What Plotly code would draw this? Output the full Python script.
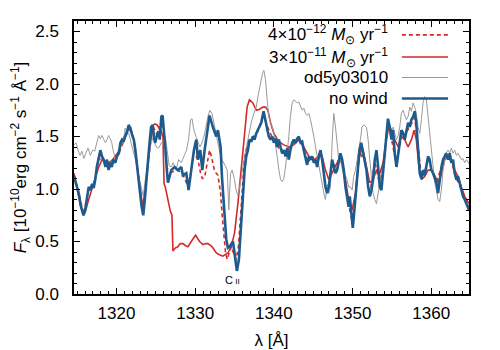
import plotly.graph_objects as go

# wavelength grids [Angstrom] and fluxes [1e-10 erg cm^-2 s^-1 A^-1]
wl_nowind = [
    1314.6, 1314.86, 1315.2, 1315.5, 1315.8, 1316.0, 1316.25, 1316.47, 1316.68, 1316.9,
    1317.1, 1317.3, 1317.5, 1317.74, 1317.95, 1318.16, 1318.37, 1318.6, 1318.8, 1319.0,
    1319.2, 1319.4, 1319.6, 1319.85, 1320.06, 1320.3, 1320.5, 1320.7, 1320.9, 1321.1,
    1321.3, 1321.55, 1321.76, 1322.0, 1322.2, 1322.4, 1322.6, 1322.8, 1323.0, 1323.2,
    1323.4, 1323.6, 1323.75, 1324.0, 1324.2, 1324.4, 1324.6, 1324.76, 1324.9, 1325.15,
    1325.35, 1325.5, 1325.7, 1325.86, 1326.0, 1326.2, 1326.4, 1326.54, 1326.96, 1327.39,
    1327.81, 1328.23, 1328.44, 1328.87, 1329.16, 1329.5, 1329.84, 1330.14, 1330.35, 1330.65,
    1330.9, 1331.2, 1331.53, 1331.83, 1332.25, 1332.68, 1332.89, 1333.23, 1333.4, 1333.65,
    1333.95, 1334.16, 1334.37, 1334.8, 1335.0, 1335.3, 1335.56, 1335.85, 1336.06, 1336.28,
    1336.49, 1336.7, 1336.9, 1337.12, 1337.33, 1337.55, 1337.76, 1337.97, 1338.18, 1338.4,
    1338.69, 1338.94, 1339.15, 1339.36, 1339.58, 1339.8, 1340.0, 1340.2, 1340.42, 1340.64,
    1340.85, 1341.06, 1341.27, 1341.48, 1341.7, 1341.9, 1342.1, 1342.33, 1342.54, 1342.75,
    1342.96, 1343.17, 1343.4, 1343.6, 1343.8, 1344.02, 1344.23, 1344.45, 1344.66, 1344.87,
    1345.08, 1345.3, 1345.5, 1345.7, 1345.93, 1346.14, 1346.35, 1346.56, 1346.77, 1346.98,
    1347.2, 1347.4, 1347.62, 1347.83, 1348.04, 1348.25, 1348.46, 1348.68, 1348.89, 1349.1,
    1349.3, 1349.5, 1349.65, 1349.82, 1350.03, 1350.24, 1350.45, 1350.67, 1350.88, 1351.1,
    1351.34, 1351.55, 1351.77, 1351.98, 1352.19, 1352.4, 1352.61, 1352.83, 1353.04, 1353.25,
    1353.46, 1353.67, 1353.88, 1354.1, 1354.3, 1354.5, 1354.73, 1354.94, 1355.15, 1355.36,
    1355.58, 1355.8, 1356.0, 1356.2, 1356.42, 1356.63, 1356.85, 1357.06, 1357.27, 1357.48,
    1357.7, 1357.9, 1358.1, 1358.33, 1358.54, 1358.75, 1358.96, 1359.17, 1359.38, 1359.6,
    1359.8, 1360.02, 1360.23, 1360.44, 1360.66, 1360.87, 1361.08, 1361.3, 1361.5, 1361.7,
    1361.9, 1362.14, 1362.35, 1362.56, 1362.77, 1362.98, 1363.2, 1363.4, 1363.62, 1363.83,
    1364.04, 1364.25, 1364.5, 1364.8,
]
flux_nowind = [
    1.12, 1.05, 0.96, 0.83, 0.75, 0.79, 0.90, 1.02, 0.99, 1.05,
    1.01, 1.09, 1.21, 1.31, 1.37, 1.31, 1.28, 1.21, 1.28, 1.18,
    1.25, 1.21, 1.28, 1.25, 1.31, 1.34, 1.44, 1.47, 1.45, 1.50,
    1.53, 1.61, 1.58, 1.51, 1.47, 1.37, 1.25, 1.12, 0.96, 0.83,
    0.75, 0.90, 1.05, 1.28, 1.44, 1.59, 1.61, 1.50, 1.44, 1.51,
    1.55, 1.47, 1.69, 1.70, 1.59, 1.40, 1.18, 1.06, 1.18, 1.21,
    1.18, 1.21, 1.13, 1.15, 0.99, 1.21, 1.37, 1.47, 1.28, 1.37,
    1.18, 1.37, 1.56, 1.70, 1.59, 1.50, 1.56, 1.40, 1.12, 0.80,
    0.52, 0.44, 0.45, 0.50, 0.39, 0.22, 0.33, 0.64, 0.96, 1.18,
    1.31, 1.37, 1.47, 1.45, 1.50, 1.47, 1.53, 1.56, 1.59, 1.63,
    1.74, 1.66, 1.59, 1.50, 1.47, 1.50, 1.44, 1.48, 1.40, 1.47,
    1.40, 1.34, 1.37, 1.31, 1.39, 1.28, 1.37, 1.44, 1.47, 1.44,
    1.48, 1.50, 1.44, 1.45, 1.37, 1.31, 1.23, 1.31, 1.28, 1.31,
    1.25, 1.28, 1.21, 1.31, 1.37, 1.28, 1.15, 1.02, 0.96, 1.02,
    1.15, 1.28, 1.21, 1.15, 1.18, 1.28, 1.34, 1.28, 1.18, 1.02,
    0.90, 0.83, 0.93, 0.80, 0.63, 0.80, 1.02, 1.21, 1.37, 1.44,
    1.34, 1.28, 1.18, 1.02, 0.93, 0.99, 1.09, 1.28, 1.37, 1.21,
    1.02, 0.99, 1.15, 1.34, 1.53, 1.67, 1.59, 1.47, 1.56, 1.34,
    1.21, 1.31, 1.44, 1.56, 1.53, 1.47, 1.56, 1.63, 1.59, 1.66,
    1.69, 1.74, 1.63, 1.40, 1.15, 1.10, 1.18, 1.13, 1.21, 1.31,
    1.28, 1.18, 1.15, 1.10, 1.06, 0.96, 1.09, 1.21, 1.28, 1.31,
    1.34, 1.28, 1.34, 1.25, 1.28, 1.15, 1.09, 1.12, 1.06, 0.99,
    0.93, 0.90, 0.86, 0.80,
]

wl_wind3e11 = [
    1314.6, 1315.0, 1315.4, 1315.8, 1316.1, 1316.47, 1316.9, 1317.3, 1317.7, 1318.16,
    1318.6, 1319.0, 1319.4, 1319.85, 1320.3, 1320.7, 1321.3, 1321.76, 1322.2, 1322.5,
    1322.8, 1323.05, 1323.3, 1323.66, 1324.0, 1324.3, 1324.7, 1324.9, 1325.15, 1325.44,
    1325.7, 1325.9, 1326.0, 1326.05, 1326.2, 1326.5, 1326.84, 1327.05, 1327.1, 1327.17,
    1327.5, 1327.8, 1328.1, 1328.44, 1328.8, 1329.08, 1329.5, 1330.05, 1330.56, 1330.98,
    1331.3, 1331.6, 1332.0, 1332.25, 1332.6, 1332.89, 1333.5, 1334.16, 1334.58, 1335.0,
    1335.43, 1335.85, 1336.28, 1336.6, 1336.9, 1337.33, 1337.76, 1338.18, 1338.6, 1338.94,
    1339.24, 1339.58, 1340.0, 1340.64, 1341.27, 1341.9, 1342.54, 1343.17, 1343.8, 1344.45,
    1345.08, 1345.7, 1346.14, 1346.56, 1346.98, 1347.4, 1347.83, 1348.25, 1348.68, 1349.1,
    1349.5, 1349.95, 1350.37, 1350.8, 1351.2, 1351.34, 1351.77, 1352.19, 1352.6, 1353.04,
    1353.46, 1353.88, 1354.3, 1354.65, 1354.94, 1355.36, 1355.8, 1356.2, 1356.63, 1357.06,
    1357.48, 1357.82, 1358.1, 1358.45, 1358.75, 1359.17, 1359.6, 1360.02, 1360.44, 1360.87,
    1361.3, 1361.7, 1362.14, 1362.56, 1362.98, 1363.4, 1363.83, 1364.25, 1364.8,
]
flux_wind3e11 = [
    1.15, 1.00, 0.85, 0.75, 0.80, 0.90, 1.00, 1.09, 1.20, 1.28,
    1.26, 1.25, 1.27, 1.31, 1.36, 1.44, 1.55, 1.59, 1.47, 1.30,
    1.12, 0.95, 0.83, 0.99, 1.22, 1.44, 1.61, 1.62, 1.61, 1.58,
    1.55, 1.50, 1.30, 1.05, 1.02, 0.90, 0.79, 0.75, 0.60, 0.41,
    0.44, 0.45, 0.48, 0.48, 0.46, 0.45, 0.50, 0.56, 0.50, 0.47,
    0.48, 0.48, 0.46, 0.44, 0.40, 0.38, 0.36, 0.39, 0.45, 0.58,
    0.86, 1.18, 1.56, 1.78, 1.85, 1.82, 1.75, 1.76, 1.78, 1.78,
    1.75, 1.63, 1.53, 1.45, 1.42, 1.40, 1.42, 1.47, 1.40, 1.31,
    1.28, 1.31, 1.31, 1.18, 1.09, 1.15, 1.21, 1.28, 1.25, 1.09,
    0.90, 0.80, 0.96, 1.28, 1.40, 1.37, 1.21, 1.06, 1.09, 1.18,
    1.15, 1.25, 1.47, 1.61, 1.56, 1.47, 1.40, 1.50, 1.47, 1.40,
    1.47, 1.56, 1.47, 1.21, 1.09, 1.12, 1.18, 1.18, 1.13, 1.06,
    1.15, 1.28, 1.31, 1.28, 1.18, 1.12, 1.02, 0.93, 0.86,
]

wl_wind4e12 = [
    1314.6, 1315.2, 1315.8, 1316.47, 1317.1, 1317.74, 1318.37, 1319.0, 1319.6, 1320.3,
    1320.9, 1321.55, 1322.2, 1322.8, 1323.4, 1324.0, 1324.6, 1325.15, 1325.7, 1326.0,
    1326.4, 1326.96, 1327.81, 1328.44, 1329.16, 1329.84, 1330.35, 1330.69, 1330.9, 1331.2,
    1331.5, 1331.83, 1332.1, 1332.47, 1332.9, 1333.23, 1333.44, 1333.65, 1333.86, 1334.07,
    1334.28, 1334.58, 1334.88, 1335.2, 1335.5, 1335.77, 1335.98, 1336.28, 1336.7, 1337.33,
    1337.97, 1338.69, 1339.15, 1339.8, 1340.42, 1341.06, 1341.7, 1342.33, 1342.96, 1343.6,
    1344.23, 1344.87, 1345.5, 1345.93, 1346.56, 1346.98, 1347.4, 1348.04, 1348.46, 1349.1,
    1349.5, 1350.03, 1350.45, 1350.88, 1351.55, 1352.19, 1352.83, 1353.46, 1354.1, 1354.5,
    1354.94, 1355.58, 1356.2, 1356.85, 1357.48, 1357.9, 1358.33, 1358.75, 1359.38, 1360.02,
    1360.66, 1361.3, 1361.9, 1362.56, 1363.2, 1363.83, 1364.8,
]
flux_wind4e12 = [
    1.13, 0.97, 0.76, 1.00, 1.02, 1.29, 1.27, 1.20, 1.26, 1.34,
    1.45, 1.59, 1.47, 1.13, 0.77, 1.26, 1.60, 1.52, 1.62, 1.58,
    1.20, 1.16, 1.18, 1.14, 1.01, 1.35, 1.28, 1.15, 1.10, 1.11,
    1.25, 1.37, 1.30, 1.17, 1.13, 0.96, 0.74, 0.55, 0.39, 0.33,
    0.39, 0.45, 0.39, 0.33, 0.45, 0.74, 1.02, 1.31, 1.43, 1.49,
    1.55, 1.72, 1.60, 1.49, 1.41, 1.35, 1.37, 1.43, 1.47, 1.44,
    1.25, 1.30, 1.23, 1.35, 1.04, 1.03, 1.26, 1.19, 1.33, 1.04,
    0.85, 0.66, 1.00, 1.35, 1.27, 0.95, 1.26, 1.04, 1.32, 1.64,
    1.48, 1.23, 1.54, 1.54, 1.62, 1.68, 1.41, 1.11, 1.20, 1.18,
    1.07, 1.20, 1.33, 1.26, 1.10, 1.00, 0.82,
]

wl_obs = [
    1314.6, 1314.86, 1315.1, 1315.37, 1315.6, 1315.87, 1316.1, 1316.38, 1316.68, 1316.97,
    1317.23, 1317.5, 1317.74, 1317.95, 1318.16, 1318.4, 1318.6, 1318.8, 1319.0, 1319.2,
    1319.4, 1319.6, 1319.85, 1320.06, 1320.3, 1320.5, 1320.7, 1320.9, 1321.1, 1321.3,
    1321.55, 1321.76, 1322.0, 1322.2, 1322.4, 1322.6, 1322.8, 1323.0, 1323.2, 1323.4,
    1323.66, 1323.9, 1324.17, 1324.4, 1324.7, 1324.93, 1325.2, 1325.44, 1325.7, 1325.95,
    1326.2, 1326.45, 1326.7, 1326.96, 1327.2, 1327.56, 1327.9, 1328.23, 1328.57, 1328.9,
    1329.16, 1329.42, 1329.6, 1329.84, 1330.1, 1330.35, 1330.6, 1330.86, 1331.11, 1331.37,
    1331.62, 1331.87, 1332.13, 1332.38, 1332.64, 1332.89, 1333.14, 1333.4, 1333.65, 1333.9,
    1334.07, 1334.2, 1334.28, 1334.37, 1334.5, 1334.7, 1335.0, 1335.2, 1335.43, 1335.64,
    1335.85, 1336.06, 1336.36, 1336.7, 1337.12, 1337.46, 1337.76, 1338.05, 1338.3, 1338.56,
    1338.73, 1338.94, 1339.15, 1339.36, 1339.58, 1339.8, 1340.0, 1340.2, 1340.42, 1340.64,
    1340.85, 1341.06, 1341.27, 1341.48, 1341.7, 1341.9, 1342.1, 1342.33, 1342.54, 1342.75,
    1342.96, 1343.17, 1343.4, 1343.6, 1343.8, 1344.02, 1344.23, 1344.45, 1344.66, 1344.87,
    1345.08, 1345.3, 1345.5, 1345.7, 1345.93, 1346.14, 1346.35, 1346.56, 1346.77, 1346.98,
    1347.2, 1347.4, 1347.62, 1347.83, 1348.04, 1348.25, 1348.46, 1348.68, 1348.89, 1349.1,
    1349.3, 1349.5, 1349.73, 1349.95, 1350.15, 1350.37, 1350.58, 1350.8, 1351.0, 1351.2,
    1351.43, 1351.77, 1351.98, 1352.19, 1352.4, 1352.6, 1352.83, 1353.04, 1353.25, 1353.46,
    1353.67, 1353.88, 1354.1, 1354.3, 1354.5, 1354.73, 1354.94, 1355.15, 1355.36, 1355.58,
    1355.8, 1356.0, 1356.2, 1356.42, 1356.63, 1356.85, 1357.06, 1357.27, 1357.48, 1357.7,
    1357.9, 1358.1, 1358.33, 1358.54, 1358.75, 1358.96, 1359.17, 1359.38, 1359.6, 1359.8,
    1360.02, 1360.23, 1360.44, 1360.66, 1360.87, 1361.08, 1361.3, 1361.5, 1361.7, 1361.9,
    1362.14, 1362.35, 1362.56, 1362.77, 1362.98, 1363.2, 1363.4, 1363.62, 1363.83, 1364.04,
    1364.25, 1364.5, 1364.8,
]
flux_obs = [
    1.42, 1.44, 1.37, 1.32, 1.36, 1.29, 1.34, 1.39, 1.32, 1.37,
    1.36, 1.44, 1.51, 1.48, 1.51, 1.47, 1.44, 1.47, 1.51, 1.48,
    1.44, 1.36, 1.29, 1.31, 1.34, 1.39, 1.44, 1.47, 1.58, 1.55,
    1.53, 1.47, 1.42, 1.36, 1.28, 1.20, 1.13, 1.06, 0.99, 0.93,
    1.09, 1.21, 1.34, 1.44, 1.50, 1.42, 1.39, 1.40, 1.44, 1.45,
    1.50, 1.35, 1.22, 1.21, 1.25, 1.18, 1.28, 1.25, 1.31, 1.37,
    1.47, 1.66, 1.67, 1.56, 1.50, 1.44, 1.40, 1.44, 1.50, 1.59,
    1.69, 1.75, 1.72, 1.63, 1.53, 1.45, 1.34, 1.28, 1.25, 1.21,
    1.18, 0.96, 0.80, 0.96, 1.15, 1.18, 1.09, 0.99, 0.94, 1.01,
    1.12, 1.21, 1.34, 1.47, 1.63, 1.72, 1.78, 1.91, 2.01, 2.10,
    2.13, 2.04, 1.85, 1.69, 1.63, 1.59, 1.53, 1.44, 1.31, 1.18,
    1.09, 1.07, 1.10, 1.21, 1.34, 1.50, 1.69, 1.82, 1.85, 1.83,
    1.82, 1.83, 1.78, 1.75, 1.77, 1.72, 1.70, 1.72, 1.66, 1.59,
    1.50, 1.40, 1.31, 1.25, 1.15, 1.06, 0.96, 0.90, 1.02, 0.96,
    1.02, 1.44, 1.72, 1.59, 1.40, 1.28, 1.28, 1.18, 1.12, 1.13,
    1.09, 1.02, 1.02, 0.99, 1.12, 1.18, 1.28, 1.34, 1.47, 1.59,
    1.61, 1.59, 1.47, 1.28, 1.09, 0.96, 0.90, 0.86, 0.96, 1.06,
    1.15, 1.21, 1.40, 1.53, 1.59, 1.56, 1.50, 1.59, 1.53, 1.47,
    1.51, 1.59, 1.72, 1.75, 1.70, 1.66, 1.69, 1.78, 1.74, 1.82,
    1.78, 1.72, 1.59, 1.53, 1.66, 1.82, 1.88, 1.85, 1.69, 1.53,
    1.34, 1.18, 1.06, 0.99, 0.90, 0.88, 1.00, 1.18, 1.28, 1.34,
    1.37, 1.34, 1.39, 1.34, 1.37, 1.32, 1.34, 1.31, 1.28, 1.29,
    1.25, 1.28, 1.24,
]

RED = "#d42a2a"
GREY = "#9a9a9a"
BLUE = "#1d5a8e"
FONT = "Liberation Sans, Arial, Helvetica, sans-serif"

fig = go.Figure()
fig.add_trace(go.Scatter(x=wl_wind4e12, y=flux_wind4e12, mode="lines",
                         line=dict(color=RED, width=1.6, dash="4px,3px")))
fig.add_trace(go.Scatter(x=wl_wind3e11, y=flux_wind3e11, mode="lines",
                         line=dict(color=RED, width=1.6)))
fig.add_trace(go.Scatter(x=wl_obs, y=flux_obs, mode="lines",
                         line=dict(color=GREY, width=1)))
fig.add_trace(go.Scatter(x=wl_nowind, y=flux_nowind, mode="lines",
                         line=dict(color=BLUE, width=2.6)))

# hand-made legend: label on the left, line sample on the right
legend_rows = [
    ("4×10<sup>−12</sup> <i>M</i><sub>⊙</sub> yr<sup>−1</sup>", dict(color=RED, width=1.6, dash="4px,3px"), 0.949),
    ("3×10<sup>−11</sup> <i>M</i><sub>⊙</sub> yr<sup>−1</sup>", dict(color=RED, width=1.6), 0.868),
    ("od5y03010", dict(color=GREY, width=1), 0.793),
    ("no wind", dict(color=BLUE, width=2.6), 0.716),
]
for label, style, yy in legend_rows:
    fig.add_annotation(x=0.80, y=yy, xref="paper", yref="paper", text=label,
                       showarrow=False, xanchor="right", yanchor="middle",
                       font=dict(size=17, color="black", family=FONT))
    fig.add_shape(type="line", xref="paper", yref="paper",
                  x0=0.830, x1=0.947, y0=yy, y1=yy, line=style)

fig.add_annotation(x=1334.75, y=0.13, text="C<span style='font-size:8px'> II</span>",
                   showarrow=False, font=dict(size=11, color="black", family=FONT))

axis_common = dict(
    showline=True, linecolor="black", linewidth=1.5, mirror="allticks",
    ticks="inside", ticklen=6, tickwidth=1, tickcolor="black",
    showgrid=False, zeroline=False, automargin=False,
    tickfont=dict(size=17, color="black", family=FONT),
)
fig.update_xaxes(range=[1314.6, 1364.8], tickvals=[1320, 1330, 1340, 1350, 1360],
                 minor=dict(dtick=1, tick0=1314, ticks="inside", ticklen=3, tickcolor="black"),
                 title=dict(text="λ [Å]", font=dict(size=17, color="black", family=FONT), standoff=12),
                 ticklabelstandoff=3, **axis_common)
fig.update_yaxes(range=[0, 2.6], tickvals=[0, 0.5, 1.0, 1.5, 2.0, 2.5], tickformat=".1f",
                 minor=dict(dtick=0.1, tick0=0, ticks="inside", ticklen=3, tickcolor="black"),
                 title=dict(text="<i>F</i><sub>λ</sub> [10<sup>−10</sup>erg cm<sup>−2</sup> s<sup>−1</sup> Å<sup>−1</sup>]",
                            font=dict(size=17, color="black", family=FONT), standoff=8),
                 ticklabelstandoff=10, **axis_common)

# the page body adds an 8 px offset, so the margins are shifted to compensate
fig.update_layout(
    width=500, height=350,
    margin=dict(l=66, r=39, t=13, b=64, autoexpand=False),
    paper_bgcolor="white", plot_bgcolor="white",
    showlegend=False,
    font=dict(family=FONT, color="black"),
)

fig.write_html("out.html")
